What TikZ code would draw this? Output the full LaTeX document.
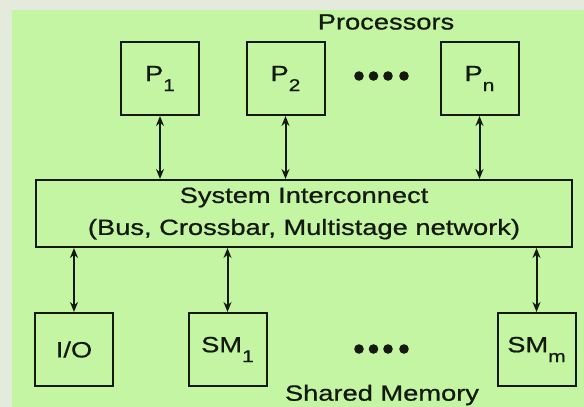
\documentclass[tikz,border=0pt]{standalone}
\usepackage{fontspec}
\setmainfont{Liberation Sans}[FakeStretch=1.24, FakeBold=0.8]
\usetikzlibrary{arrows.meta}
\definecolor{pagebg}{RGB}{228,234,220}
\definecolor{panel}{RGB}{196,245,162}
\definecolor{ink}{RGB}{20,26,16}
\newcommand{\sub}[1]{\raisebox{-0.45em}{\fontsize{17}{17}\selectfont #1}}
\tikzset{
  unit/.style={draw=ink, line width=2pt, minimum width=78pt, minimum height=73pt, inner sep=0pt, font=\fontsize{22}{22}\selectfont, text=ink},
  bus/.style={draw=ink, line width=2pt, minimum width=536pt, minimum height=67pt, inner sep=0pt, align=center, font=\fontsize{22}{32}\selectfont, text=ink},
  caption/.style={inner sep=0pt, font=\fontsize{22}{22}\selectfont, text=ink},
  link/.style={draw=ink, line width=2pt, {Stealth[length=10pt,width=8pt]}-{Stealth[length=10pt,width=8pt]}},
  dot/.style={fill=ink}
}
\begin{document}
\begin{tikzpicture}[x=1pt,y=-1pt]
  % backdrop and panel
  \fill[pagebg] (0,0) rectangle (584,407);
  \fill[panel] (12,10) rectangle (584,407);
  \useasboundingbox (0,0) rectangle (584,407);

  % processors
  \node[unit] (p1) at (160,78.5) {P\sub{1}};
  \node[unit] (p2) at (285.5,78.5) {P\sub{2}};
  \node[unit] (pn) at (479.5,78.5) {P\sub{n}};
  \node[caption] (proc) at (386,22) {Processors};

  % interconnect
  \node[bus] (sys) at (304,213.5) {System Interconnect\\(Bus, Crossbar, Multistage network)};

  % memory and I/O
  \node[unit] (io) at (74,349.5) {I/O};
  \node[unit] (sm1) at (227.5,349.5) {SM\sub{1}};
  \node[unit] (smm) at (536.5,349.5) {SM\sub{m}};
  \node[caption] (shm) at (382,395) {Shared Memory};

  % ellipsis dots
  \foreach \x in {359,373.5,388,404} {
    \fill[dot] (\x,76) circle (4.8pt);
    \fill[dot] (\x,349) circle (4.8pt);
  }

  % connections
  \foreach \n in {p1,p2,pn} \draw[link] (\n.south) -- (\n.south |- sys.north);
  \foreach \n in {io,sm1,smm} \draw[link] (\n.north) -- (\n.north |- sys.south);
\end{tikzpicture}
\end{document}
